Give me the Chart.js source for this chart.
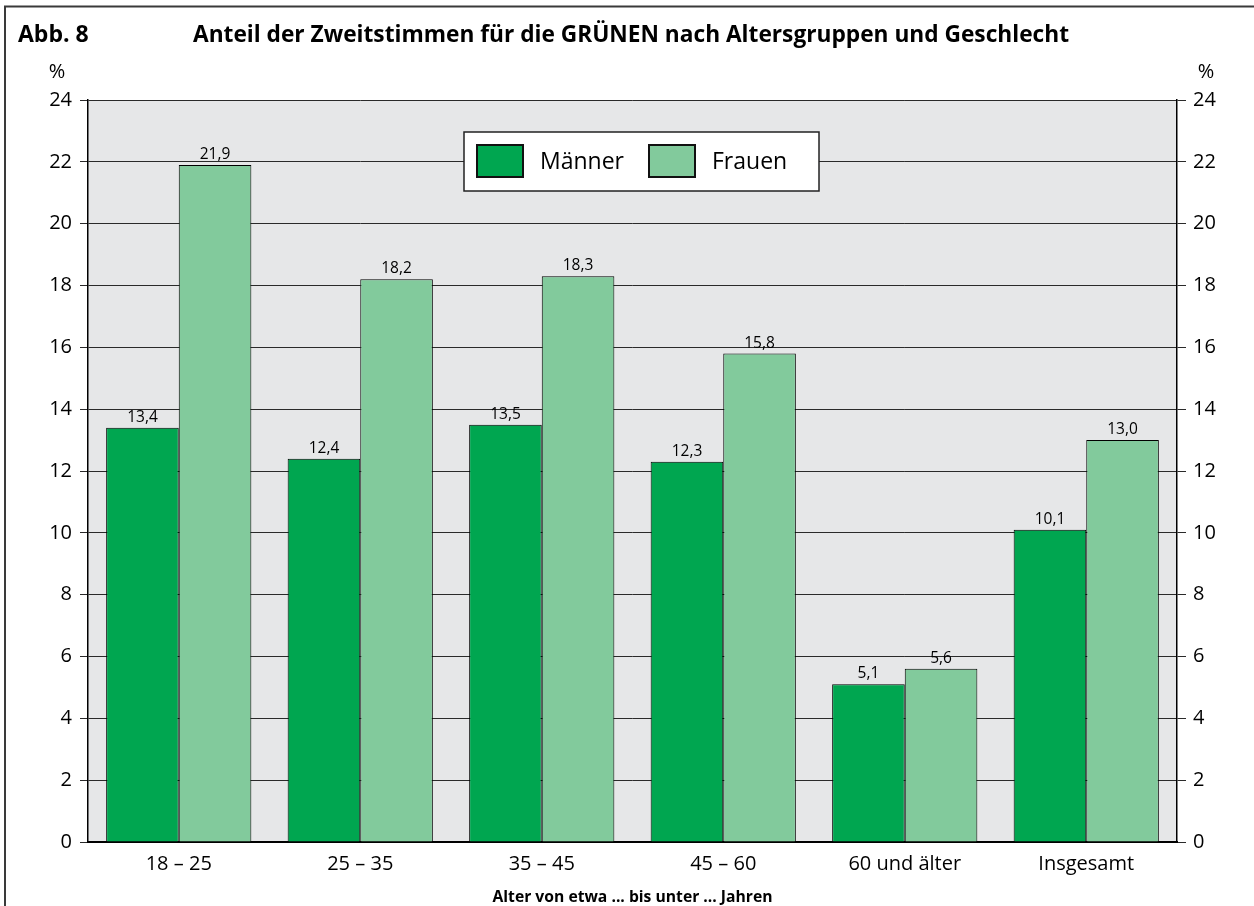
<!DOCTYPE html>
<html>
<head>
<meta charset="utf-8">
<script src="https://cdn.jsdelivr.net/npm/chart.js@4.4.1/dist/chart.umd.min.js"></script>
<style>
  html, body { margin: 0; padding: 0; background: #ffffff; }
  #wrap { position: absolute; left: 0; top: 0; width: 1254px; height: 906px; }
</style>
</head>
<body>
<div id="wrap"><canvas id="c" width="1254" height="906"></canvas></div>
<script>
// ---- Data ----
const categories = ['18 – 25', '25 – 35', '35 – 45', '45 – 60', '60 und älter', 'Insgesamt'];
const maenner = [13.4, 12.4, 13.5, 12.3, 5.1, 10.1];
const frauen = [21.9, 18.2, 18.3, 15.8, 5.6, 13.0];
const seriesLabels = ['Männer', 'Frauen'];
const yMin = 0, yMax = 24, yStep = 2;
const figureLabel = 'Abb. 8';
const titleText = 'Anteil der Zweitstimmen für die GRÜNEN nach Altersgruppen und Geschlecht';
const xTitle = 'Alter von etwa ... bis unter ... Jahren';
const unitLabel = '%';

const COL_M = '#00a650';
const COL_F = '#82ca9c';
const FONT = '"Open Sans", "Noto Sans", sans-serif';

const fmt = v => v.toFixed(1).replace('.', ',');

const decoPlugin = {
  id: 'deco',
  beforeDraw(chart) {
    const ctx = chart.ctx, a = chart.chartArea;
    ctx.save();
    ctx.fillStyle = '#ffffff';
    ctx.fillRect(0, 0, chart.width, chart.height);
    ctx.fillStyle = '#e6e7e8';
    ctx.fillRect(a.left, a.top, a.right - a.left, a.bottom - a.top);
    // frame
    ctx.strokeStyle = '#3a3a3a';
    ctx.lineWidth = 2;
    ctx.beginPath();
    ctx.moveTo(5, chart.height);
    ctx.lineTo(5, 6.5);
    ctx.lineTo(chart.width, 6.5);
    ctx.stroke();
    ctx.restore();
  },
  afterDraw(chart) {
    const ctx = chart.ctx, a = chart.chartArea;
    ctx.save();
    ctx.fillStyle = '#000';
    // titles
    ctx.textBaseline = 'alphabetic';
    ctx.textAlign = 'left';
    ctx.font = 'bold 23px ' + FONT;
    ctx.fillText(figureLabel, 18, 42, 72);
    ctx.fillText(titleText, 193, 42, 876);
    // unit labels
    ctx.font = '20px ' + FONT;
    ctx.textAlign = 'center';
    ctx.fillText(unitLabel, 57, 78);
    ctx.fillText(unitLabel, 1206, 78);
    // x axis title
    ctx.font = 'bold 16px ' + FONT;
    ctx.fillText(xTitle, (a.left + a.right) / 2, 902, 280);
    // data labels
    ctx.font = '15.5px ' + FONT;
    ctx.textBaseline = 'alphabetic';
    chart.data.datasets.forEach((ds, di) => {
      const meta = chart.getDatasetMeta(di);
      meta.data.forEach((bar, i) => {
        ctx.fillText(fmt(ds.data[i]), bar.x, bar.y - 6);
      });
    });
    // legend
    const lx = a.left + 376, ly = a.top + 32, lw = 355, lh = 59;
    ctx.fillStyle = '#ffffff';
    ctx.fillRect(lx, ly, lw, lh);
    ctx.strokeStyle = '#222';
    ctx.lineWidth = 1.5;
    ctx.strokeRect(lx, ly, lw, lh);
    const items = [
      { sx: lx + 13, tx: lx + 76 },
      { sx: lx + 185, tx: lx + 248 }
    ];
    chart.data.datasets.forEach((ds, di) => {
      const it = items[di];
      ctx.fillStyle = ds.backgroundColor;
      ctx.fillRect(it.sx, ly + 13, 46, 32);
      ctx.strokeStyle = '#111';
      ctx.lineWidth = 2;
      ctx.strokeRect(it.sx, ly + 13, 46, 32);
      ctx.fillStyle = '#000';
      ctx.font = '23px ' + FONT;
      ctx.textAlign = 'left';
      ctx.textBaseline = 'middle';
      ctx.fillText(ds.label, it.tx, ly + 30);
    });
    ctx.restore();
  }
};

new Chart(document.getElementById('c'), {
  type: 'bar',
  data: {
    labels: categories,
    datasets: [
      { label: seriesLabels[0], data: maenner, backgroundColor: COL_M, borderColor: '#000', borderWidth: 1 },
      { label: seriesLabels[1], data: frauen, backgroundColor: COL_F, borderColor: '#000', borderWidth: 1 }
    ]
  },
  options: {
    responsive: false,
    devicePixelRatio: 1,
    animation: false,
    categoryPercentage: 0.8,
    barPercentage: 1.0,
    layout: { padding: { top: 100, left: 0, right: 0, bottom: 0 } },
    plugins: {
      legend: { display: false },
      title: { display: false },
      tooltip: { enabled: false }
    },
    scales: {
      x: {
        grid: { display: false, drawTicks: false },
        border: { display: true, color: '#000', width: 2 },
        ticks: { color: '#000', font: { family: FONT, size: 20 }, padding: 10, maxRotation: 0 },
        afterFit(s) { s.height = 64; }
      },
      y: {
        position: 'left',
        min: yMin, max: yMax,
        ticks: { stepSize: yStep, color: '#000', font: { family: FONT, size: 20 }, padding: 8 },
        grid: { color: '#2a2a2a', lineWidth: 1, tickLength: 8 },
        border: { display: true, color: '#000', width: 1.5 },
        afterFit(s) { s.width = 88; }
      },
      y2: {
        position: 'right',
        min: yMin, max: yMax,
        ticks: { stepSize: yStep, color: '#000', font: { family: FONT, size: 20 }, padding: 7 },
        grid: { drawOnChartArea: false, color: '#2a2a2a', lineWidth: 1, tickLength: 9 },
        border: { display: true, color: '#000', width: 1.5 },
        afterFit(s) { s.width = 77; }
      }
    }
  },
  plugins: [decoPlugin]
});
</script>
</body>
</html>
